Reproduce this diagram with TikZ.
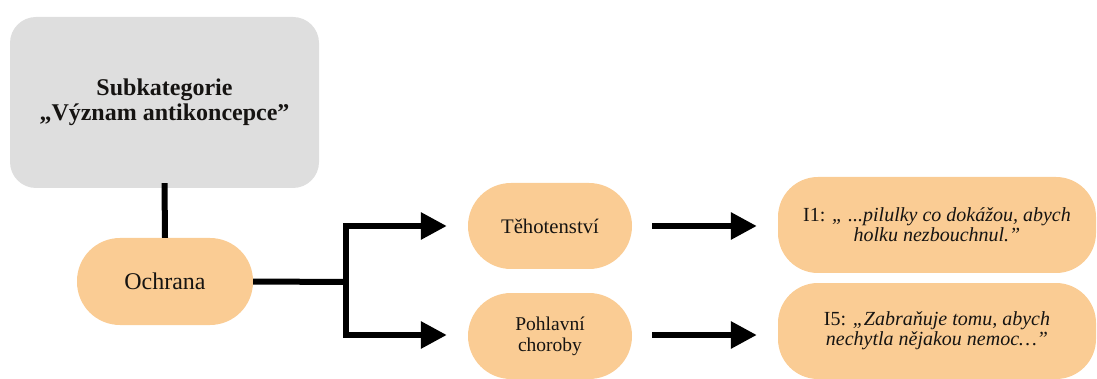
\documentclass[tikz,border=0pt]{standalone}
\usepackage{fontspec}
\setmainfont{Liberation Serif}
\usetikzlibrary{arrows.meta}
\definecolor{boxgray}{RGB}{222,222,222}
\definecolor{peach}{RGB}{250,204,148}
\definecolor{ink}{RGB}{22,20,18}
\begin{document}
\begin{tikzpicture}[x=1pt,y=-1pt,
  every node/.style={inner sep=0pt,text=ink,align=center},
  catbox/.style={fill=boxgray,rounded corners=26pt,minimum width=309pt,minimum height=171pt,
    font=\fontsize{24}{25}\selectfont\bfseries},
  pill/.style={fill=peach,rounded corners=43pt,minimum width=#1,minimum height=86pt},
  pill/.default=164pt,
  quote/.style={fill=peach,rounded corners=40pt,minimum width=318pt,minimum height=96pt,
    font=\fontsize{20}{20}\selectfont\itshape},
  link/.style={draw=black,line width=6pt},
  arr/.style={link,-{Triangle[length=26pt,width=26pt]}}]
\useasboundingbox (0,0) rectangle (1097,379);

% category and its main code
\node[catbox] (cat) at (164.5,102.5) {Subkategorie\\„Význam antikoncepce”};
\node[pill=176pt,minimum height=87pt,font=\fontsize{24}{25}\selectfont] (och) at (165,281.5) {Ochrana};

% second-level codes
\node[pill,font=\fontsize{20.7}{22}\selectfont] (teh) at (550,226) {Těhotenství};
\node[pill,font=\fontsize{19.5}{21}\selectfont] (poh) at (550,336) {Pohlavní\\choroby};

% interview quotes
\node[quote] (q1) at (937,225) {{\upshape I1:} „ ...pilulky co dokážou, abych\\holku nezbouchnul.”};
\node[quote] (q2) at (937,331) {{\upshape I5:} „Zabraňuje tomu, abych\\nechytla nějakou nemoc…”};

% connectors
\coordinate (fork) at (346,282);
\coordinate (ftop) at (fork |- teh.west);
\coordinate (fbot) at ([yshift=1pt]fork |- poh.west);
\draw[link] ([yshift=5pt]cat.south) -- (och.north);
\draw[link] (och.east) -- (fork);
\draw[link,line cap=rect] (ftop) -- (fbot);
\draw[arr,shorten >=21pt] (ftop) -- (ftop -| teh.west);
\draw[arr,shorten >=21pt] (fbot) -- (fbot -| poh.west);
\draw[arr,shorten <=20pt,shorten >=21pt] (teh.east) -- (teh.east -| q1.west);
\draw[arr,shorten <=20pt,shorten >=21pt] ([yshift=1pt]poh.east) -- ([yshift=1pt]poh.east -| q2.west);
\end{tikzpicture}
\end{document}
